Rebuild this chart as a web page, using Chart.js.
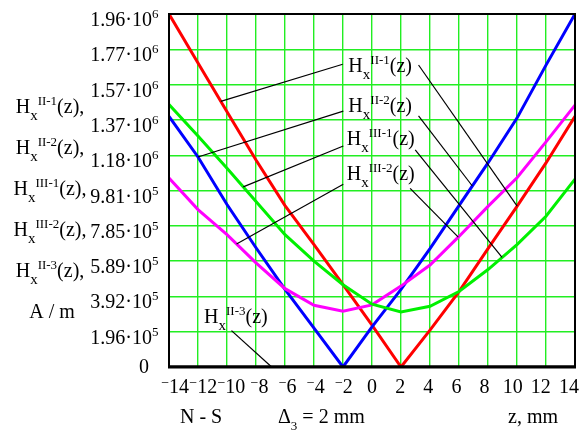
<!DOCTYPE html>
<html>
<head>
<meta charset="utf-8">
<script src="https://cdn.jsdelivr.net/npm/chart.js@4"></script>
<style>
  html, body { margin: 0; padding: 0; background: #fff; }
  canvas { display: block; }
</style>
</head>
<body>
<canvas id="chart" width="586" height="431"></canvas>
<script>
// Positions along the axis, mm
const zValues = [-14, -12, -10, -8, -6, -4, -2, 0, 2, 4, 6, 8, 10, 12, 14];

// Field strength, A/m
const hII1 = [1960000, 1688000, 1417000, 1149000, 896000, 680000, 457000, 233000, 0, 205000, 419000, 657000, 892000, 1133000, 1392000];
const hII2 = [1392000, 1166000, 902000, 662000, 431000, 216000, 0, 223000, 431000, 657000, 896000, 1133000, 1382000, 1676000, 1960000];
const hIII1 = [1458000, 1282000, 1103000, 919000, 735000, 588000, 457000, 349000, 306000, 337000, 419000, 541000, 680000, 837000, 1043000];
const hIII2 = [1049000, 874000, 735000, 578000, 435000, 343000, 310000, 345000, 449000, 566000, 725000, 892000, 1051000, 1250000, 1454000];
const hII3 = [0, 0, 0, 0, 0, 0, 0, 0, 0, 0, 0, 0, 0, 0, 0];

// Axis ticks
const xTicks = [-14, -12, -10, -8, -6, -4, -2, 0, 2, 4, 6, 8, 10, 12, 14];
const yTicks = [0, 196000, 392000, 588000, 784000, 980000, 1176000, 1372000, 1568000, 1764000, 1960000];
const yTickMantissa = ['0', '1.96', '3.92', '5.89', '7.85', '9.81', '1.18', '1.37', '1.57', '1.77', '1.96'];
const yTickExponent = ['', '5', '5', '5', '5', '5', '6', '6', '6', '6', '6'];

const FONT = '"Liberation Serif", "Times New Roman", serif';

const series = {
  II1: { data: hII1, color: '#ff0000' },
  II2: { data: hII2, color: '#0000ff' },
  III1: { data: hIII1, color: '#00f000' },
  III2: { data: hIII2, color: '#ff00ff' },
  II3: { data: hII3, color: '#000000' }
};

// Curve captions inside the plot (anchor = left end of "H", baseline)
const captions = [
  { sup: 'II-1', z: -1.63, v: 1639000 },
  { sup: 'II-2', z: -1.63, v: 1417000 },
  { sup: 'III-1', z: -1.74, v: 1233000 },
  { sup: 'III-2', z: -1.74, v: 1039000 },
  { sup: 'II-3', z: -11.58, v: 245000 }
];

// Pointer lines from captions to curves
const leaders = [
  { z0: -2.02, v0: 1681000, key: 'II1', z1: -10.43 },
  { z0: 3.21, v0: 1677000, key: 'II1', z1: 10.01 },
  { z0: -1.98, v0: 1421000, key: 'II2', z1: -12.0 },
  { z0: 3.21, v0: 1394000, key: 'II2', z1: 6.92 },
  { z0: -1.98, v0: 1227000, key: 'III1', z1: -8.88 },
  { z0: 2.98, v0: 1205000, key: 'III1', z1: 8.97 },
  { z0: -1.98, v0: 1015000, key: 'III2', z1: -9.34 },
  { z0: 2.63, v0: 992000, key: 'III2', z1: 5.95 },
  { z0: -9.69, v0: 202000, key: 'II3', z1: -6.92 }
];

function valueAt(vals, z) {
  for (let i = 0; i < zValues.length - 1; i++) {
    if (z >= zValues[i] && z <= zValues[i + 1]) {
      const t = (z - zValues[i]) / (zValues[i + 1] - zValues[i]);
      return vals[i] + t * (vals[i + 1] - vals[i]);
    }
  }
  return vals[vals.length - 1];
}

// Text made of pieces with their own size and vertical shift
function richWidth(ctx, parts) {
  let w = 0;
  parts.forEach(p => { ctx.font = p.size + 'px ' + FONT; w += ctx.measureText(p.t).width; });
  return w;
}
function drawRich(ctx, x, y, parts) {
  parts.forEach(p => {
    ctx.font = p.size + 'px ' + FONT;
    ctx.fillText(p.t, x, y + (p.dy || 0));
    x += ctx.measureText(p.t).width;
  });
  return x;
}
function hParts(sup, tail) {
  return [
    { t: 'H', size: 20 },
    { t: 'x', size: 15, dy: 7 },
    { t: sup, size: 13, dy: -8 },
    { t: tail, size: 20 }
  ];
}

const overlay = {
  id: 'overlay',
  afterDatasetsDraw(chart) {
    const { ctx, chartArea: a, scales: { x, y } } = chart;
    ctx.save();

    // plot frame
    ctx.strokeStyle = '#000';
    ctx.lineWidth = 2;
    ctx.beginPath();
    ctx.moveTo(a.left, a.bottom);
    ctx.lineTo(a.left, a.top);
    ctx.lineTo(a.right, a.top);
    ctx.lineTo(a.right, a.bottom);
    ctx.stroke();
    ctx.lineWidth = 3;
    ctx.beginPath();
    ctx.moveTo(a.left - 1, a.bottom);
    ctx.lineTo(a.right + 1, a.bottom);
    ctx.stroke();

    // pointer lines
    ctx.lineWidth = 1.2;
    leaders.forEach(l => {
      const v1 = valueAt(series[l.key].data, l.z1);
      ctx.beginPath();
      ctx.moveTo(x.getPixelForValue(l.z0), y.getPixelForValue(l.v0));
      ctx.lineTo(x.getPixelForValue(l.z1), y.getPixelForValue(v1));
      ctx.stroke();
    });

    ctx.fillStyle = '#000';
    ctx.textAlign = 'left';
    ctx.textBaseline = 'alphabetic';

    // captions in the plot
    captions.forEach(c => {
      drawRich(ctx, x.getPixelForValue(c.z), y.getPixelForValue(c.v), hParts(c.sup, '(z)'));
    });

    // y tick labels
    yTicks.forEach((v, i) => {
      const py = y.getPixelForValue(v);
      const exp = yTickExponent[i];
      if (!exp) {
        ctx.font = '20px ' + FONT;
        ctx.textAlign = 'right';
        ctx.fillText(yTickMantissa[i], 149, py + 6);
        ctx.textAlign = 'left';
        return;
      }
      const base = yTickMantissa[i] + '\u00b710';
      ctx.font = '20px ' + FONT;
      const w = ctx.measureText(base).width;
      drawRich(ctx, 152 - w, py + 12, [{ t: base, size: 20 }, { t: exp, size: 13, dy: -8 }]);
    });

    // x tick labels, spread slightly inward like the original layout
    const cx = (a.left + a.right) / 2;
    xTicks.forEach(v => {
      const px = cx + (x.getPixelForValue(v) - cx) * 0.97;
      const parts = v < 0
        ? [{ t: '\u2212', size: 14, dy: -6 }, { t: String(-v), size: 20 }]
        : [{ t: String(v), size: 20 }];
      const w = richWidth(ctx, parts);
      drawRich(ctx, px - w / 2, 393, parts);
    });

    // axis captions
    const names = ['II-1', 'II-2', 'III-1', 'III-2', 'II-3'];
    names.forEach((s, i) => {
      const parts = hParts(s, '(z),');
      const w = richWidth(ctx, parts);
      drawRich(ctx, 50 - w / 2, 113 + i * 41, parts);
    });
    ctx.font = '20px ' + FONT;
    ctx.textAlign = 'center';
    ctx.fillText('A / m', 52, 318);
    ctx.textAlign = 'left';
    ctx.fillText('N - S', 180, 423);
    drawRich(ctx, 278, 423, [{ t: '\u0394', size: 20 }, { t: '3', size: 13, dy: 7 }, { t: ' = 2 mm', size: 20 }]);
    ctx.font = '20px ' + FONT;
    ctx.fillText('z, mm', 508, 423);

    ctx.restore();
  }
};

const makeSet = key => ({
  label: key,
  data: zValues.map((z, i) => ({ x: z, y: series[key].data[i] })),
  borderColor: series[key].color,
  backgroundColor: series[key].color,
  borderWidth: 3,
  pointRadius: 0,
  tension: 0,
  fill: false
});

new Chart(document.getElementById('chart').getContext('2d'), {
  type: 'line',
  data: { datasets: ['II3', 'III1', 'III2', 'II2', 'II1'].map(makeSet) },
  options: {
    responsive: false,
    animation: false,
    devicePixelRatio: 1,
    layout: { padding: { left: 169, right: 11, top: 14, bottom: 64 } },
    plugins: { legend: { display: false }, tooltip: { enabled: false } },
    scales: {
      x: {
        type: 'linear',
        min: -14,
        max: 14,
        ticks: { display: false, stepSize: 2 },
        grid: { color: '#22ee22', lineWidth: 1.4, drawTicks: false },
        border: { display: false }
      },
      y: {
        min: 0,
        max: 1960000,
        ticks: { display: false, stepSize: 196000 },
        grid: { color: '#22ee22', lineWidth: 1.4, drawTicks: false },
        border: { display: false }
      }
    }
  },
  plugins: [overlay]
});
</script>
</body>
</html>
